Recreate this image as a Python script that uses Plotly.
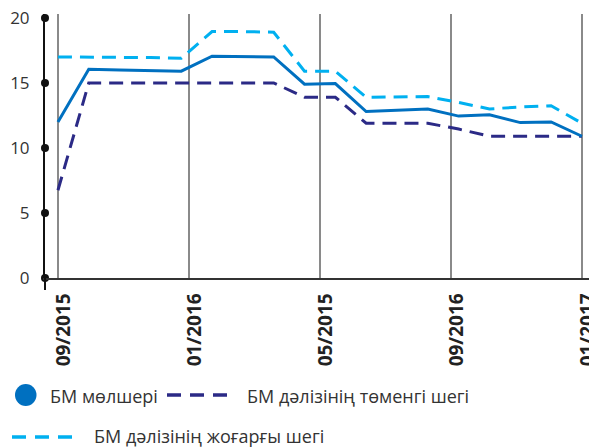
import plotly.graph_objects as go

# ---- data ----
idx = list(range(18))
base_rate = [12.0, 16.05, 16.0, 15.95, 15.9, 17.05, 17.0, 17.0, 14.9, 14.95, 12.8, 12.9, 13.0, 12.45, 12.55, 11.95, 12.0, 10.9]
upper = [17.0, 17.0, 16.95, 16.95, 16.9, 18.95, 18.95, 18.9, 15.9, 15.9, 13.9, 13.95, 13.95, 13.5, 13.0, 13.15, 13.25, 11.9]
lower = [6.75, 15.0, 15.0, 15.0, 15.0, 15.0, 15.0, 15.0, 13.9, 13.9, 11.9, 11.9, 11.9, 11.45, 10.9, 10.9, 10.9, 10.9]
names = ["БМ мөлшері", "БМ дәлізінің төменгі шегі", "БМ дәлізінің жоғарғы шегі"]
tick_pos = [0, 4.25, 8.5, 12.75, 17]
tick_text = ["09/2015", "01/2016", "05/2015", "09/2016", "01/2017"]
y_ticks = [0, 5, 10, 15, 20]

# ---- style ----
W, H = 589, 447
ML, MR, MT, MB = 45, 0, 14, 169
PW, PH = W - ML - MR, H - MT - MB
XR = [-0.42, 17.23]
YR = [0, 20.3]
C_BASE = "#0070C0"
C_LOW = "#2B2A86"
C_UP = "#00B0F0"
FONT = "Open Sans"


def px_x(x):
    return (x - ML) / PW


def px_y(y):
    return (H - MB - y) / PH


fig = go.Figure()
fig.add_trace(go.Scatter(x=idx, y=upper, mode="lines", name=names[2],
                         line=dict(color=C_UP, width=3, dash="14px,8px"), showlegend=False))
fig.add_trace(go.Scatter(x=idx, y=lower, mode="lines", name=names[1],
                         line=dict(color=C_LOW, width=3, dash="14px,8px"), showlegend=False))
fig.add_trace(go.Scatter(x=idx, y=base_rate, mode="lines", name=names[0],
                         line=dict(color=C_BASE, width=3), showlegend=False))
# axis dots
fig.add_trace(go.Scatter(x=[XR[0]] * len(y_ticks), y=y_ticks, mode="markers",
                         marker=dict(color="#111111", size=8), cliponaxis=False,
                         showlegend=False, hoverinfo="skip"))

fig.update_xaxes(range=XR, tickvals=tick_pos, ticktext=tick_text, tickangle=-90,
                 showgrid=True, gridcolor="#8a8a8a", gridwidth=1.5, zeroline=False,
                 showline=True, linecolor="#333333", linewidth=1.5, ticks="",
                 tickfont=dict(family=FONT, size=19, color="#222222", weight="bold"),
                 ticklabelstandoff=6, ticklabelshift=6, automargin=False,
                 ticklabeloverflow="allow")
fig.update_yaxes(range=YR, tickvals=y_ticks, showgrid=False, zeroline=False,
                 showline=True, linecolor="#111111", linewidth=2, ticks="",
                 tickfont=dict(family=FONT, size=17, color="#333333"),
                 ticklabelstandoff=10, automargin=False)

shapes = []
# axis line extension below zero
shapes.append(dict(type="line", xref="paper", yref="paper", x0=0, x1=0,
                   y0=px_y(290), y1=0, line=dict(color="#111111", width=2)))
# legend symbols
shapes.append(dict(type="circle", xref="paper", yref="paper",
                   x0=px_x(15), x1=px_x(36.5), y0=px_y(384), y1=px_y(406),
                   fillcolor=C_BASE, line=dict(width=0)))
shapes.append(dict(type="line", xref="paper", yref="paper",
                   x0=px_x(167), x1=px_x(236), y0=px_y(395), y1=px_y(395),
                   line=dict(color=C_LOW, width=3.5, dash="14px,9px")))
shapes.append(dict(type="line", xref="paper", yref="paper",
                   x0=px_x(12), x1=px_x(80), y0=px_y(437), y1=px_y(437),
                   line=dict(color=C_UP, width=3.5, dash="14px,9px")))

annotations = []
for text, x, y in [(names[0], 48, 396), (names[1], 245, 396), (names[2], 92, 436)]:
    annotations.append(dict(text=text, xref="paper", yref="paper", x=px_x(x), y=px_y(y),
                            xanchor="left", yanchor="middle", showarrow=False,
                            font=dict(family=FONT, size=18, color="#333333")))

fig.update_layout(width=W, height=H, margin=dict(l=ML, r=MR, t=MT, b=MB),
                  plot_bgcolor="white", paper_bgcolor="white",
                  shapes=shapes, annotations=annotations, showlegend=False)

fig.write_html("out.html", config={"displayModeBar": False},
               post_script="document.body.style.margin='0';document.body.style.overflow='hidden';")
